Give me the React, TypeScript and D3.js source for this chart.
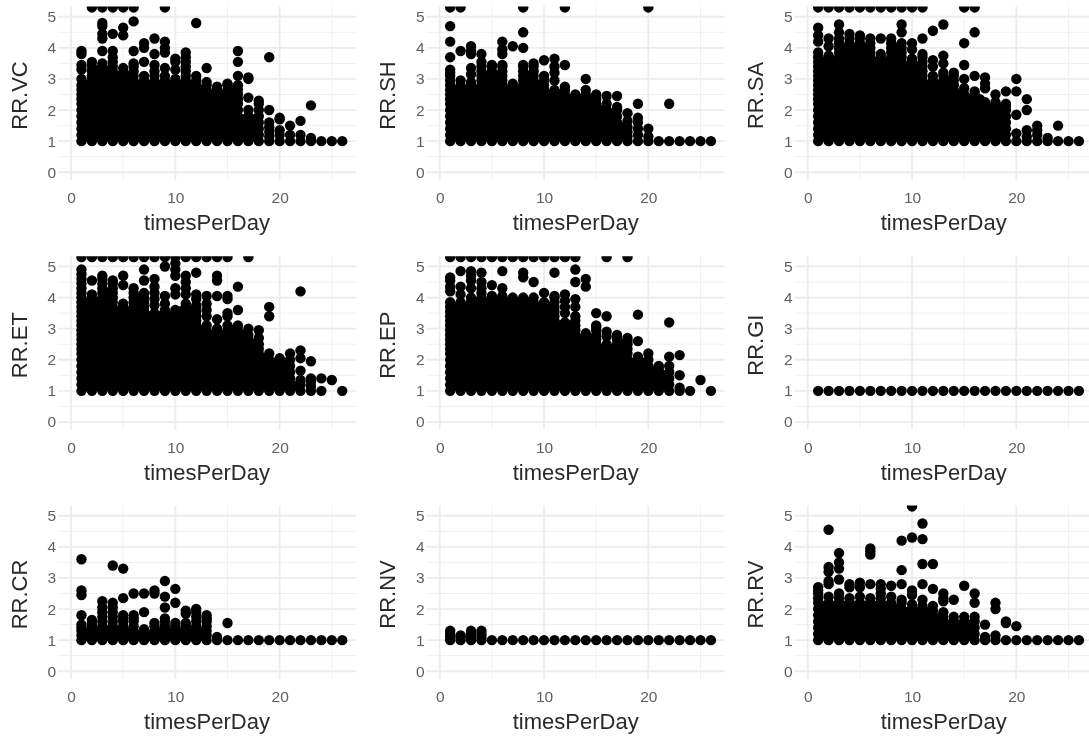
import React, { useEffect, useRef } from 'react'
import * as d3 from 'd3'

type Column = [number, number[]]

const xTicks = [0, 10, 20]
const xMinor = [5, 15, 25]
const yTicks = [0, 1, 2, 3, 4, 5]
const yMinor = [0.5, 1.5, 2.5, 3.5, 4.5]

// the dense part of the columns is a solid block, so the levels are shared
const base = [1, 1.2, 1.4, 1.6, 1.8, 2, 2.2]
const b25 = [...base, 2.35, 2.5]
const b28 = [...b25, 2.65, 2.8]
const b31 = [...b28, 2.95, 3.1]
const b34 = [...b31, 3.25, 3.4]
const b37 = [...b34, 3.55, 3.7]
const b40 = [...b37, 3.85, 4]
const b43 = [...b40, 4.15, 4.3]
const mid = [1.15, 1.3, 1.5, 1.7, 1.9, 2.1, 2.35]
const m25 = [...mid, 2.5]
const m28 = [...m25, 2.65, 2.8]
const m31 = [...m28, 2.95, 3.1]
const m34 = [...m31, 3.25, 3.4]
const m37 = [...m34, 3.55, 3.7]
const m40 = [...m37, 3.85, 4]
const low = [1.15, 1.3, 1.5, 1.7, 1.9]

const rrVC: Column[] = [
  [1, [...b28, 3, 3.3, 3.45, 3.8, 3.9]],
  [1.5, m28],
  [2, [...b34, 3.55, 5.3]],
  [2.5, [...m31, 3.25]],
  [3, [...b34, 3.5, 3.9, 4.3, 4.45, 4.7, 4.8, 5.3]],
  [3.5, [...m31, 3.25]],
  [4, [...b37, 3.9, 4.45, 5.3]],
  [4.5, m31],
  [5, [...b31, 3.2, 3.35, 4.4, 4.65, 5.3]],
  [5.5, m31],
  [6, [...b34, 3.5, 3.9, 4.85, 5.3]],
  [6.5, m28],
  [7, [...b31, 3.55, 4, 4.15]],
  [7.5, m28],
  [8, [...b31, 3.25, 3.45, 3.8, 4.3]],
  [8.5, m28],
  [9, [...b31, 3.35, 3.85, 4, 4.2, 5.3]],
  [9.5, m28],
  [10, [...b28, 3, 3.3, 3.55, 3.65]],
  [10.5, m28],
  [11, [...b37, 3.85]],
  [11.5, m28],
  [12, [...b31, 4.8]],
  [12.5, [...m25, 2.65]],
  [13, [...b28, 2.9, 3.35]],
  [13.5, m25],
  [14, [...b25, 2.65, 2.75]],
  [14.5, m25],
  [15, [...b28, 2.85]],
  [15.5, [...m25, 2.65]],
  [16, [...b28, 3.1, 3.55, 3.9]],
  [16.5, [1.15, 1.3, 1.5, 1.7]],
  [17, [1, 1.2, 1.4, 1.6, 1.8, 2, 2.4, 3, 3.05]],
  [17.5, [1.15, 1.3, 1.5, 1.7]],
  [18, [...base, 2.3]],
  [19, [1, 1.15, 1.3, 1.45, 1.6, 2, 3.7]],
  [20, [1, 1.2, 1.35, 1.7, 1.75]],
  [21, [1, 1.2, 1.5]],
  [22, [1, 1.2, 1.65]],
  [23, [1, 1.1, 2.15]],
  [24, [1]],
  [25, [1]],
  [26, [1]],
]

const rrSH: Column[] = [
  [1, [...b31, 3.2, 3.3, 3.7, 4.2, 4.7, 5.3]],
  [1.5, [...m25, 2.65]],
  [2, [...b28, 2.95, 3.9, 5.3]],
  [2.5, [...m25, 2.65]],
  [3, [...b28, 2.9, 3.15, 3.35, 3.8, 3.9, 4.05]],
  [3.5, [...m25, 2.65]],
  [4, [...b34, 3.55, 3.8]],
  [4.5, m31],
  [5, [...b34, 3.45]],
  [5.5, m31],
  [6, [...b34, 3.45, 3.8, 3.95, 4.2]],
  [6.5, [...m25, 2.65]],
  [7, [...b28, 2.85, 4.05]],
  [7.5, [...m25, 2.65]],
  [8, [...b34, 3.45, 4, 4.5, 5.3]],
  [8.5, m31],
  [9, [...b34, 3.5]],
  [9.5, m28],
  [10, [...b31, 3.6]],
  [10.5, m25],
  [11, [...b25, 2.65, 2.95, 3.2, 3.4, 3.65]],
  [11.5, m25],
  [12, [...b25, 2.65, 2.75, 3.45, 5.3]],
  [12.5, mid],
  [13, b25],
  [13.5, mid],
  [14, [...b25, 2.65, 3]],
  [14.5, mid],
  [15, b25],
  [15.5, [1.15, 1.3, 1.5, 1.7, 1.9, 2]],
  [16, [...base, 2.45]],
  [16.5, low],
  [17, [...base.slice(0, 6), 2.1, 2.45]],
  [17.5, [1.15, 1.3, 1.45]],
  [18, [1, 1.15, 1.3, 1.45, 1.65, 1.9]],
  [19, [1, 1.2, 1.4, 1.6, 1.75, 2.2]],
  [20, [1, 1.15, 1.4, 5.3]],
  [21, [1]],
  [22, [1, 2.2]],
  [23, [1]],
  [24, [1]],
  [25, [1]],
  [26, [1]],
]

const rrSA: Column[] = [
  [1, [...b37, 3.85, 4.2, 4.4, 4.65, 5.3]],
  [1.5, [...m34, 3.55]],
  [2, [...b37, 3.75, 4.05, 4.3, 5.3]],
  [2.5, [...m34, 3.55]],
  [3, [...b43, 4.5, 4.75, 5.3]],
  [3.5, m40],
  [4, [...b43, 4.45, 5.3]],
  [4.5, m40],
  [5, [...b43, 4.4, 5.3]],
  [5.5, m40],
  [6, [...b43, 5.3]],
  [6.5, [...m34, 3.55]],
  [7, [...b37, 3.8, 4.3, 5.3]],
  [7.5, [...m34, 3.55]],
  [8, [...b43, 5.3]],
  [8.5, m40],
  [9, [...b40, 4.15, 4.5, 4.75, 5.3]],
  [9.5, m34],
  [10, [...b34, 3.55, 3.65, 3.95, 4.15, 5.3]],
  [10.5, m34],
  [11, [...b37, 3.8, 4.3, 5.3]],
  [11.5, m28],
  [12, [...b31, 3.4, 3.6, 4.55]],
  [12.5, m28],
  [13, [...b31, 3.2, 3.5, 3.75, 4.75]],
  [13.5, [...m28, 2.95]],
  [14, [...b31, 3.2]],
  [14.5, m25],
  [15, [...b25, 2.7, 3, 3.45, 4.15, 5.3]],
  [15.5, mid],
  [16, [...b25, 2.6, 3.1, 4.5, 5.3]],
  [16.5, mid],
  [17, [...base, 2.25, 2.7, 2.85, 3.05]],
  [17.5, [...low, 2.05]],
  [18, [...base, 2.25, 2.5]],
  [18.5, [...low, 2.05]],
  [19, [...base, 2.15, 2.6]],
  [20, [1, 1.25, 1.85, 2.6, 3]],
  [21, [1, 1.15, 1.35, 2, 2.35]],
  [22, [1, 1.2, 1.35, 1.5]],
  [23, [1, 1.1]],
  [24, [1, 1.5]],
  [25, [1]],
  [26, [1]],
]

const rrET: Column[] = [
  [1, [...b43, 4.45, 4.6, 4.75, 4.9, 5.3]],
  [1.5, [...m37, 3.85]],
  [2, [...b40, 4.1, 4.55, 5.3]],
  [2.5, [...m37, 3.85]],
  [3, [...b43, 4.45, 4.6, 4.7, 5.3]],
  [3.5, [...m40, 4.15]],
  [4, [...b43, 4.45, 4.55, 5.3]],
  [4.5, [...m34, 3.55]],
  [5, [...b37, 3.8, 4.4, 4.7, 5.3]],
  [5.5, [...m34, 3.55]],
  [6, [...b43, 5.3]],
  [6.5, m40],
  [7, [...b40, 4.15, 4.55, 4.9, 5.3]],
  [7.5, m34],
  [8, [...b34, 3.5, 3.75, 3.95, 4.15, 4.35, 4.6, 5.3]],
  [8.5, m34],
  [9, [...b34, 3.6, 3.8, 4.05, 5, 5.3]],
  [9.5, m34],
  [10, [...b34, 3.6, 4.1, 4.3, 4.7, 4.9, 5.1, 5.3]],
  [10.5, [...m34, 3.55]],
  [11, [...b37, 3.8, 4.1, 4.3, 4.5, 4.7, 5.3]],
  [11.5, [...m34, 3.55]],
  [12, [...b37, 3.75, 3.95, 4.1, 4.8, 5.3]],
  [12.5, [...m28, 2.95]],
  [13, [...b31, 3.4, 3.6, 3.8, 4.05, 5.3]],
  [13.5, m28],
  [14, [...b28, 2.9, 3, 3.3, 4.05, 4.55, 4.7, 5.3]],
  [14.5, m28],
  [15, [...b31, 3.4, 3.5, 3.95, 4.05, 5.3]],
  [15.5, [...m28, 2.95]],
  [16, [...b31, 3.6, 4.35]],
  [16.5, m28],
  [17, [...b28, 3, 5.3]],
  [17.5, m25],
  [18, [...b25, 2.7, 2.95]],
  [18.5, [...low, 2.05]],
  [19, [...base, 3.4, 3.7]],
  [19.5, low],
  [20, [1, 1.2, 1.4, 1.6, 1.8, 1.95, 2.05]],
  [20.5, low],
  [21, base],
  [21.5, [1.15]],
  [22, [1, 1.2, 1.35, 1.65, 2.05, 2.3, 4.2]],
  [23, [1, 1.15, 1.3, 1.4, 1.95]],
  [24, [1, 1.4]],
  [25, [1.35]],
  [26, [1]],
]

const rrEP: Column[] = [
  [1, [...b37, 3.85, 4.2, 4.35, 4.55, 4.65, 5.3]],
  [1.5, m37],
  [2, [...b37, 3.85, 4.1, 4.35, 4.85, 5.3]],
  [2.5, m37],
  [3, [...b40, 4.3, 4.55, 4.7, 4.85, 5.3]],
  [3.5, [...m37, 3.85]],
  [4, [...b43, 4.5, 4.8, 5.3]],
  [4.5, [...m37, 3.85]],
  [5, [...b40, 4.05, 4.4, 5.3]],
  [5.5, [...m37, 3.85]],
  [6, [...b40, 4.05, 4.3, 4.85, 5.3]],
  [6.5, [...m37, 3.85]],
  [7, [...b40, 5.3]],
  [7.5, [...m37, 3.85]],
  [8, [...b40, 4.65, 4.8, 5.3]],
  [8.5, [...m37, 3.85]],
  [9, [...b40, 4.5, 5.3]],
  [9.5, m37],
  [10, [...b37, 3.85, 4.15, 5.3]],
  [10.5, m37],
  [11, [...b40, 4.05, 4.8, 5.3]],
  [11.5, m31],
  [12, [...b31, 3.2, 3.5, 3.7, 3.9, 4.1, 5.3]],
  [12.5, m31],
  [13, [...b34, 3.7, 3.95, 4.5, 4.9, 5.3]],
  [13.5, [...m25, 2.65]],
  [14, [...b28, 2.85, 4.35, 4.6]],
  [14.5, [...m25, 2.65]],
  [15, [...b31, 3.05, 3.5]],
  [15.5, mid],
  [16, [...b25, 2.75, 2.9, 3.4, 5.3]],
  [16.5, mid],
  [17, [...b28, 2.75]],
  [17.5, m25],
  [18, [...b25, 2.6, 2.7, 5.3]],
  [18.5, low],
  [19, [1, 1.2, 1.4, 1.6, 1.8, 1.95, 2.1, 2.6, 3.45]],
  [19.5, low],
  [20, base],
  [20.5, [1.15, 1.3, 1.5, 1.65]],
  [21, [1, 1.2, 1.4, 1.6, 1.7, 1.8]],
  [21.5, [1.15, 1.3, 1.5]],
  [22, [1, 1.2, 1.4, 1.6, 1.8, 2.1, 3.2]],
  [23, [1, 1.1, 1.5, 2.15]],
  [24, [1]],
  [25, [1.35]],
  [26, [1]],
]

const rrGI: Column[] = [
  [1, [1]], [2, [1]], [3, [1]], [4, [1]], [5, [1]], [6, [1]], [7, [1]],
  [8, [1]], [9, [1]], [10, [1]], [11, [1]], [12, [1]], [13, [1]], [14, [1]],
  [15, [1]], [16, [1]], [17, [1]], [18, [1]], [19, [1]], [20, [1]], [21, [1]],
  [22, [1]], [23, [1]], [24, [1]], [25, [1]], [26, [1]],
]

const rrCR: Column[] = [
  [1, [1, 1.15, 1.3, 1.4, 1.5, 1.8, 2.45, 2.6, 3.6]],
  [1.5, [1.15, 1.25]],
  [2, [1, 1.15, 1.3, 1.45, 1.55, 1.65]],
  [2.5, [1.15, 1.25]],
  [3, [1, 1.15, 1.3, 1.45, 1.6, 1.75, 1.9, 2.05, 2.25]],
  [3.5, [1.15, 1.3]],
  [4, [1, 1.15, 1.3, 1.45, 1.6, 1.75, 1.9, 2.05, 2.2, 3.4]],
  [4.5, [1.15, 1.3]],
  [5, [1, 1.15, 1.3, 1.45, 1.6, 1.7, 1.8, 2.35, 3.3]],
  [5.5, [1.15, 1.25]],
  [6, [1, 1.15, 1.3, 1.45, 1.6, 1.7, 1.8, 2.5]],
  [6.5, [1.15]],
  [7, [1, 1.2, 1.35, 1.9, 2.5]],
  [7.5, [1.15]],
  [8, [1, 1.15, 1.3, 1.45, 1.55, 2.5, 2.6]],
  [8.5, [1.15, 1.25]],
  [9, [1, 1.15, 1.3, 1.45, 1.6, 1.7, 2.05, 2.4, 2.9]],
  [9.5, [1.15, 1.25]],
  [10, [1, 1.15, 1.3, 1.45, 1.55, 2.2, 2.65]],
  [10.5, [1.15, 1.25]],
  [11, [1, 1.15, 1.3, 1.45, 1.55, 1.85, 1.95]],
  [11.5, [1.15, 1.25]],
  [12, [1, 1.15, 1.3, 1.45, 1.6, 1.75, 1.9, 2]],
  [12.5, [1.15, 1.25]],
  [13, [1, 1.15, 1.3, 1.45, 1.6, 1.7, 1.8]],
  [14, [1, 1.1]],
  [15, [1, 1.55]],
  [16, [1]], [17, [1]], [18, [1]], [19, [1]], [20, [1]], [21, [1]],
  [22, [1]], [23, [1]], [24, [1]], [25, [1]], [26, [1]],
]

const rrNV: Column[] = [
  [1, [1, 1.1, 1.2, 1.3]],
  [2, [1, 1.1, 1.15]],
  [3, [1, 1.1, 1.2, 1.3]],
  [4, [1, 1.1, 1.2, 1.3]],
  [5, [1]], [6, [1]], [7, [1]], [8, [1]], [9, [1]], [10, [1]], [11, [1]],
  [12, [1]], [13, [1]], [14, [1]], [15, [1]], [16, [1]], [17, [1]], [18, [1]],
  [19, [1]], [20, [1]], [21, [1]], [22, [1]], [23, [1]], [24, [1]], [25, [1]],
  [26, [1]],
]

const rrRV: Column[] = [
  [1, [...b25, 2.6, 2.7]],
  [1.5, [...low, 2.1]],
  [2, [...base, 2.4, 2.8, 2.9, 3.2, 3.35, 4.55]],
  [2.5, [...low, 2.1]],
  [3, [...b25, 2.95, 3.3, 3.5, 3.8]],
  [3.5, [...low, 2.1]],
  [4, [...base, 2.35, 2.7, 2.8]],
  [4.5, [...low, 2.1]],
  [5, [...base, 2.4, 2.7, 2.85]],
  [5.5, [...low, 2.1]],
  [6, [...base, 2.35, 2.8, 3.75, 3.85, 3.95]],
  [6.5, [...low, 2.1]],
  [7, b28],
  [7.5, [...low, 2.1]],
  [8, [...base, 2.4, 2.75]],
  [8.5, [...low, 2]],
  [9, [...base, 2.3, 2.8, 3.25, 4.2]],
  [9.5, low],
  [10, [1, 1.2, 1.4, 1.6, 1.8, 2, 2.15, 2.45, 2.6, 4.3, 5.3]],
  [10.5, low],
  [11, [1, 1.2, 1.4, 1.6, 1.8, 1.95, 2.1, 2.3, 2.8, 3.45, 4.25, 4.75]],
  [11.5, low],
  [12, [1, 1.2, 1.4, 1.6, 1.8, 1.95, 2.1, 2.65, 3.45]],
  [12.5, [1.15, 1.3, 1.5, 1.7]],
  [13, [1, 1.2, 1.4, 1.6, 1.75, 1.9, 2.25, 2.35, 2.5]],
  [13.5, [1.15, 1.3, 1.5]],
  [14, [1, 1.2, 1.4, 1.6, 1.75, 2.3]],
  [14.5, [1.15, 1.3, 1.5]],
  [15, [1, 1.2, 1.4, 1.6, 1.75, 2.75]],
  [15.5, [1.15, 1.3, 1.5]],
  [16, [1, 1.2, 1.4, 1.6, 1.75, 2.2, 2.5]],
  [17, [1, 1.1, 1.5]],
  [18, [1, 1.15, 2, 2.2]],
  [19, [1, 1.55, 1.6]],
  [20, [1, 1.45]],
  [21, [1]], [22, [1]], [23, [1]], [24, [1]], [25, [1]], [26, [1]],
]

const panelNames = ['RR.VC', 'RR.SH', 'RR.SA', 'RR.ET', 'RR.EP', 'RR.GI', 'RR.CR', 'RR.NV', 'RR.RV']
const panelData = [rrVC, rrSH, rrSA, rrET, rrEP, rrGI, rrCR, rrNV, rrRV]

const width = 1089
const height = 737
const panelWidth = 298
const panelHeight = 173.5
const colLeft = [58, 426.7, 794.7]
const rowTop = [6.5, 256.2, 505.5]

export default function App() {
  const ref = useRef<SVGSVGElement>(null)

  useEffect(() => {
    const svg = d3.select(ref.current)
    svg.selectAll('*').remove()

    // the reference is a slightly soft screenshot
    svg.append('defs')
      .append('filter')
      .attr('id', 'soft')
      .attr('filterUnits', 'userSpaceOnUse')
      .attr('x', 0).attr('y', 0)
      .attr('width', width).attr('height', height)
      .append('feGaussianBlur')
      .attr('stdDeviation', 0.55)

    const root = svg.append('g').attr('filter', 'url(#soft)')
    root.append('rect').attr('width', width).attr('height', height).attr('fill', '#fff')

    panelData.forEach((columns, i) => {
      const left = colLeft[i % 3]
      const top = rowTop[Math.floor(i / 3)]
      const g = root.append('g').attr('transform', `translate(${left},${top})`)

      const x = d3.scaleLinear().domain([-1.25, 27.32]).range([0, panelWidth])
      const y = d3.scaleLinear().domain([-0.25, 5.33]).range([panelHeight, 0])

      const clipId = `clip-${i}`
      svg.select('defs').append('clipPath').attr('id', clipId)
        .append('rect').attr('width', panelWidth).attr('height', panelHeight)

      g.selectAll('.vminor').data(xMinor).enter().append('line')
        .attr('x1', d => x(d)).attr('x2', d => x(d))
        .attr('y1', 0).attr('y2', panelHeight)
        .attr('stroke', '#f0f0f0').attr('stroke-width', 1)
      g.selectAll('.hminor').data(yMinor).enter().append('line')
        .attr('y1', d => y(d)).attr('y2', d => y(d))
        .attr('x1', 0).attr('x2', panelWidth)
        .attr('stroke', '#f0f0f0').attr('stroke-width', 1)
      g.selectAll('.vmajor').data(xTicks).enter().append('line')
        .attr('x1', d => x(d)).attr('x2', d => x(d))
        .attr('y1', 0).attr('y2', panelHeight)
        .attr('stroke', '#ececec').attr('stroke-width', 1.8)
      g.selectAll('.hmajor').data(yTicks).enter().append('line')
        .attr('y1', d => y(d)).attr('y2', d => y(d))
        .attr('x1', 0).attr('x2', panelWidth)
        .attr('stroke', '#ececec').attr('stroke-width', 1.8)

      const points = columns.flatMap(([tx, vals]) => vals.map(v => [tx, v]))
      g.append('g').attr('clip-path', `url(#${clipId})`)
        .selectAll('circle').data(points).enter().append('circle')
        .attr('cx', d => x(d[0])).attr('cy', d => y(d[1]))
        .attr('r', 5.2).attr('fill', '#000')

      const xAxis = g.append('g').attr('transform', `translate(0,${y(0)})`)
        .call(d3.axisBottom(x).tickValues(xTicks).tickSize(0).tickPadding(20).tickFormat(d3.format('d')))
      xAxis.select('.domain').remove()
      xAxis.selectAll('text')
        .attr('font-family', '"Liberation Sans", Arial, sans-serif')
        .attr('font-size', 15.5).attr('fill', '#5f5f5f')

      const yAxis = g.append('g').attr('transform', `translate(${x(0)},0)`)
        .call(d3.axisLeft(y).tickValues(yTicks).tickSize(0).tickPadding(15).tickFormat(d3.format('d')))
      yAxis.select('.domain').remove()
      yAxis.selectAll('text')
        .attr('font-family', '"Liberation Sans", Arial, sans-serif')
        .attr('font-size', 15.5).attr('fill', '#5f5f5f')

      g.append('text')
        .attr('x', panelWidth / 2).attr('y', y(0) + 58)
        .attr('text-anchor', 'middle')
        .attr('font-family', '"Liberation Sans", Arial, sans-serif')
        .attr('font-size', 22).attr('fill', '#2a2a2a')
        .text('timesPerDay')

      g.append('text')
        .attr('transform', `translate(${x(0) - 44.5},${y(2.5) + 1}) rotate(-90)`)
        .attr('text-anchor', 'middle')
        .attr('font-family', '"Liberation Sans", Arial, sans-serif')
        .attr('font-size', 22).attr('fill', '#2a2a2a')
        .text(panelNames[i])
    })
  }, [])

  return (
    <svg
      ref={ref}
      width={width}
      height={height}
      style={{ position: 'absolute', left: 0, top: 0, display: 'block' }}
    />
  )
}
